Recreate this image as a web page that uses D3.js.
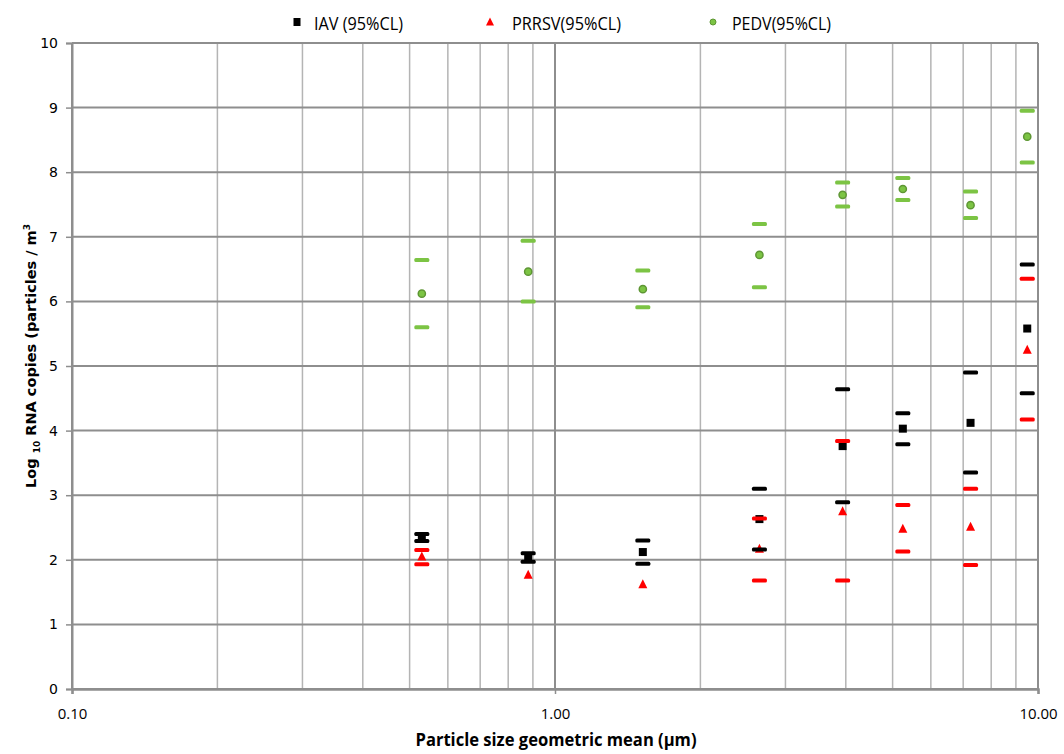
<!DOCTYPE html>
<html><head><meta charset="utf-8">
<script src="https://cdn.jsdelivr.net/npm/d3@7"></script>
<style>
body{margin:0;background:#fff;}
svg{display:block;}
</style></head>
<body><svg id="chart" width="1064" height="754"></svg>
<script>
const sizes = [0.53, 0.88, 1.52, 2.65, 3.94, 5.25, 7.25, 9.5];
const iavMean = [2.34, 2.03, 2.12, 2.63, 3.76, 4.03, 4.12, 5.58];
const iavLow  = [2.29, 1.97, 1.94, 2.16, 2.89, 3.79, 3.35, 4.58];
const iavHigh = [2.40, 2.10, 2.30, 3.10, 4.64, 4.27, 4.90, 6.57];
const prrsvMean = [2.05, 1.77, 1.62, 2.17, 2.75, 2.48, 2.51, 5.25];
const prrsvLow  = [1.93, null, null, 1.68, 1.68, 2.13, 1.92, 4.17];
const prrsvHigh = [2.15, null, null, 2.64, 3.84, 2.85, 3.10, 6.35];
const pedvMean = [6.12, 6.46, 6.19, 6.72, 7.65, 7.74, 7.49, 8.55];
const pedvLow  = [5.60, 6.00, 5.91, 6.22, 7.47, 7.57, 7.29, 8.15];
const pedvHigh = [6.64, 6.94, 6.48, 7.20, 7.84, 7.91, 7.70, 8.95];
const seriesNames = ["IAV (95%CL)", "PRRSV(95%CL)", "PEDV(95%CL)"];
const xTicks = [0.1, 1, 10];
const yTicks = [0,1,2,3,4,5,6,7,8,9,10];

const svg = d3.select("#chart");
const L = 72, R = 1038, T = 43, B = 689;
const x = d3.scaleLog().domain([0.1, 10]).range([L, R]);
const y = d3.scaleLinear().domain([0, 10]).range([B, T]);

const BLACK = "#000000", RED = "#ff0000", GREEN = "#7cc444", GREENDK = "#5e9634";
const gridMinor = "#b4b4b4", gridMajor = "#8e8e8e";
const narrow = "Open Sans, Liberation Sans, sans-serif";

// minor vertical gridlines
const minorX = [];
[0.1, 1].forEach(d => { for (let k = 2; k <= 9; k++) minorX.push(d * k); });
svg.append("g").selectAll("line").data(minorX).join("line")
  .attr("x1", d => x(d)).attr("x2", d => x(d)).attr("y1", T).attr("y2", B)
  .attr("stroke", gridMinor).attr("stroke-width", 1.5);
// major vertical
svg.append("g").selectAll("line").data(xTicks).join("line")
  .attr("x1", d => x(d)).attr("x2", d => x(d)).attr("y1", T).attr("y2", B)
  .attr("stroke", gridMajor).attr("stroke-width", 2);
// horizontal gridlines
svg.append("g").selectAll("line").data(yTicks).join("line")
  .attr("x1", L).attr("x2", R).attr("y1", d => y(d)).attr("y2", d => y(d))
  .attr("stroke", gridMajor).attr("stroke-width", 2);

// axes
const yAxis = svg.append("g").attr("transform", `translate(${L},0)`)
  .call(d3.axisLeft(y).tickValues(yTicks).tickSize(6).tickPadding(8).tickFormat(d3.format("d")));
yAxis.select(".domain").attr("stroke", gridMajor).attr("stroke-width", 2);
yAxis.selectAll(".tick line").attr("stroke", gridMajor).attr("stroke-width", 1.5);
yAxis.selectAll("text").attr("font-family", "DejaVu Sans, Verdana, sans-serif").attr("font-size", 14).attr("fill", "#000");

const xAxis = svg.append("g").attr("transform", `translate(0,${B})`)
  .call(d3.axisBottom(x).tickValues(xTicks).tickSize(5).tickPadding(14).tickFormat(d3.format(".2f")));
xAxis.select(".domain").attr("stroke", gridMajor).attr("stroke-width", 2.5);
xAxis.selectAll(".tick line").attr("stroke", gridMajor).attr("stroke-width", 1.5);
xAxis.selectAll("text").attr("font-family", narrow).attr("font-size", 15).attr("fill", "#000");

// axis titles
svg.append("text").attr("x", 556).attr("y", 746).attr("text-anchor", "middle")
  .attr("font-family", narrow).attr("font-weight", "bold").attr("font-size", 17)
  .attr("textLength", 281).attr("lengthAdjust", "spacingAndGlyphs")
  .text("Particle size geometric mean (µm)");

const yt = svg.append("text").attr("transform", "translate(36,356) rotate(-90)").attr("text-anchor", "middle")
  .attr("font-family", "DejaVu Sans, Verdana, sans-serif").attr("font-weight", "bold").attr("font-size", 14.5);
yt.append("tspan").text("Log ");
yt.append("tspan").attr("font-size", 9).attr("dy", 4).text("10");
yt.append("tspan").attr("dy", -4).text(" RNA copies  (particles / m");
yt.append("tspan").attr("font-size", 9).attr("dy", -6).text("3");

// markers
const idx = d3.range(sizes.length);
const plot = svg.append("g");
function squares(vals, color) {
  plot.append("g").selectAll("rect").data(idx).join("rect")
    .attr("x", i => x(sizes[i]) - 4).attr("y", i => y(vals[i]) - 4)
    .attr("width", 8).attr("height", 8).attr("fill", color);
}
function triangles(vals, color) {
  plot.append("g").selectAll("path").data(idx).join("path")
    .attr("d", i => { const cx = x(sizes[i]), cy = y(vals[i]); return `M${cx},${cy-5}L${cx+4.5},${cy+4}L${cx-4.5},${cy+4}Z`; })
    .attr("fill", color);
}
function circles(vals) {
  plot.append("g").selectAll("circle").data(idx).join("circle")
    .attr("cx", i => x(sizes[i])).attr("cy", i => y(vals[i])).attr("r", 3.6)
    .attr("fill", GREEN).attr("stroke", GREENDK).attr("stroke-width", 1.5);
}
function bars(vals, color) {
  plot.append("g").selectAll("rect").data(idx.filter(i => vals[i] != null)).join("rect")
    .attr("x", i => x(sizes[i]) - 7.5).attr("y", i => y(vals[i]) - 2)
    .attr("width", 15).attr("height", 4).attr("rx", 1.5).attr("fill", color);
}
squares(iavMean, BLACK);
triangles(prrsvMean, RED);
circles(pedvMean);
bars(iavLow, BLACK); bars(iavHigh, BLACK);
bars(prrsvLow, RED); bars(prrsvHigh, RED);
bars(pedvLow, GREEN); bars(pedvHigh, GREEN);

// legend
const lg = svg.append("g");
const legX = [297, 490, 713];
const legTextX = [314, 512, 732];
const legW = [89, 109, 99];
lg.append("rect").attr("x", legX[0] - 3.5).attr("y", 18).attr("width", 7).attr("height", 8).attr("fill", BLACK);
lg.append("path").attr("d", `M${legX[1]},17.5L${legX[1]+4},25.5L${legX[1]-4},25.5Z`).attr("fill", RED);
lg.append("circle").attr("cx", legX[2]).attr("cy", 22).attr("r", 3).attr("fill", GREEN).attr("stroke", GREENDK).attr("stroke-width", 1);
lg.selectAll("text").data(seriesNames).join("text")
  .attr("x", (d, i) => legTextX[i]).attr("y", 30)
  .attr("textLength", (d, i) => legW[i]).attr("lengthAdjust", "spacingAndGlyphs")
  .attr("font-family", narrow).attr("font-size", 17.5).attr("fill", "#000").text(d => d);
</script></body></html>
